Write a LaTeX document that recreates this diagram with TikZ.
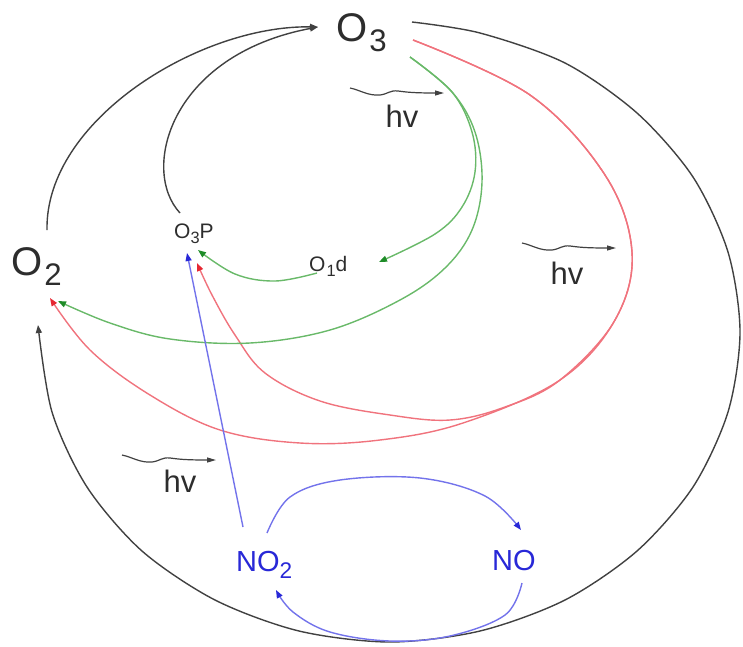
\documentclass[tikz,border=0pt]{standalone}
\usepackage{fontspec}
\setmainfont{Liberation Sans}
\usetikzlibrary{arrows.meta}
\newcommand\lowsub[1]{\raisebox{-0.25em}{\scalebox{0.78}{#1}}}
\definecolor{cblack}{RGB}{65,65,65}
\definecolor{cgreen}{RGB}{105,185,105}
\definecolor{cgreenD}{RGB}{30,140,40}
\definecolor{cred}{RGB}{240,115,125}
\definecolor{credD}{RGB}{230,40,50}
\definecolor{cblue}{RGB}{115,115,235}
\definecolor{cblueD}{RGB}{40,40,215}
\definecolor{ctext}{RGB}{45,45,45}
\begin{document}
\begin{tikzpicture}[x=1pt,y=-1pt,
  conn/.style={line width=1.4pt},
  blkarr/.style={conn,cblack,-{Triangle[length=8pt,width=6pt]}},
  grnarr/.style={conn,cgreen,-{Triangle[length=8pt,width=6pt,color=cgreenD]}},
  redarr/.style={conn,cred,-{Triangle[length=8pt,width=6pt,color=credD]}},
  bluarr/.style={conn,cblue,-{Triangle[length=8pt,width=6pt,color=cblueD]}},
  bigtxt/.style={inner sep=0pt,text=ctext,font=\fontsize{40}{48}\selectfont,anchor=base west},
  smalltxt/.style={inner sep=0pt,text=ctext,font=\fontsize{21}{25}\selectfont,anchor=base west},
  notxt/.style={inner sep=0pt,text=cblueD,font=\fontsize{29}{34}\selectfont,anchor=base west},
  hvtxt/.style={inner sep=0pt,text=ctext,font=\fontsize{31}{36}\selectfont},
  wave/.pic={\draw[line width=1.2pt,cblack,-{Triangle[length=9pt,width=5pt]}]
     (0,0) .. controls (10,2) and (18,8) .. (30,7) .. controls (38,6) and (40,2) .. (48,3)
     .. controls (56,4) and (62,5) .. (94,5);}
]
\useasboundingbox (0,0) rectangle (743,646);

% nodes
\node[bigtxt] (O3) at (336,41) {O\kern2pt\lowsub{3}};
\node[bigtxt] (O2) at (11,275) {O\kern2pt\lowsub{2}};
\node[smalltxt] (O3P) at (174,238) {O\lowsub{3}P};
\node[smalltxt] (O1d) at (309,271) {O\kern1pt\lowsub{1}d};
\node[notxt] (NO2) at (236,571) {NO\lowsub{2}};
\node[notxt] (NO) at (492,570) {NO};
\node[hvtxt] (hv1) at (402,116) {hv};
\node[hvtxt] (hv2) at (567,273) {hv};
\node[hvtxt] (hv3) at (180,481) {hv};

% wavy photon arrows
\pic (w1) at (350,88) {wave};
\pic (w2) at (522,243) {wave};
\pic (w3) at (122,455) {wave};

% black: outer ellipse O3 -> O2
\draw[blkarr] plot[smooth] coordinates {([shift={(76,-19)}]O3.base west) (480,33) (565,63) (637,113) (693,177) (728,252) (740,332) (728,412) (693,487) (637,551) (565,600) (480,631) (390,642) (299,631) (215,600) (142,551) (87,487) (52,412) ([shift={(27,50)}]O2.base west)};

% black: O2 -> O3
\draw[blkarr] ([shift={(36,-45)}]O2.base west) .. controls (45,120) and (200,25) .. ([shift={(-18,-14)}]O3.base west);

% black: O3P -> O3
\draw[blkarr] ([shift={(6,-25)}]O3P.base west) .. controls (140,170) and (170,55) .. ([shift={(-18,-14)}]O3.base west);

% red: O3 -> O2
\draw[redarr] plot[smooth,tension=0.6] coordinates {([shift={(77,-1)}]O3.base west) (530,95) (605,175) (632,252) (615,320) (560,380) (463,423) (380,440) (300,443) (220,430) (150,395) (90,350) ([shift={(39,23)}]O2.base west)};

% red: O3 -> O3P
\draw[redarr] plot[smooth,tension=0.6] coordinates {([shift={(77,-1)}]O3.base west) (530,95) (605,175) (632,252) (615,320) (560,380) (505,407) (450,420) (390,415) (320,401) (265,373) (235,335) (212,295) ([shift={(23,25)}]O3P.base west)};

% green: O3 -> O2
\draw[grnarr] plot[smooth,tension=0.6] coordinates {([shift={(74,16)}]O3.base west) (452,92) (475,132) (482,182) (472,230) (445,268) (400,300) (330,330) (250,343) (170,339) (110,323) ([shift={(47,26)}]O2.base west)};

% green: O3 -> O1d
\draw[grnarr] plot[smooth,tension=0.6] coordinates {([shift={(74,16)}]O3.base west) (452,92) (472,132) (475,172) (462,207) (435,234) ([shift={(70,-9)}]O1d.base west)};

% green: O1d -> O3P
\draw[grnarr] plot[smooth,tension=0.6] coordinates {([shift={(8,2)}]O1d.base west) (275,281) (235,274) ([shift={(24,12)}]O3P.base west)};

% blue: NO2 -> O3P
\draw[bluarr] ([shift={(7,-44)}]NO2.base west) -- ([shift={(13,15)}]O3P.base west);

% blue: NO2 -> NO
\draw[bluarr] plot[smooth,tension=0.6] coordinates {([shift={(31,-38)}]NO2.base west) (290,497) (340,480) (420,478) (485,496) ([shift={(29,-40)}]NO.base west)};

% blue: NO -> NO2
\draw[bluarr] plot[smooth,tension=0.6] coordinates {([shift={(30,13)}]NO.base west) (505,615) (450,636) (390,641) (330,632) (293,612) ([shift={(40,19)}]NO2.base west)};
\end{tikzpicture}
\end{document}
